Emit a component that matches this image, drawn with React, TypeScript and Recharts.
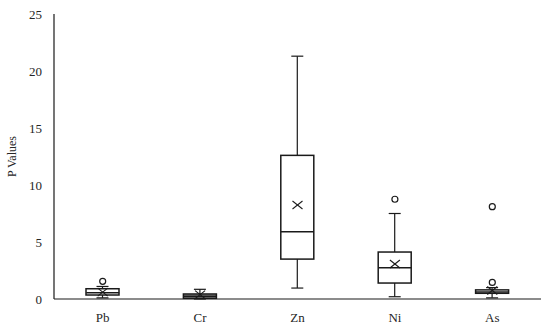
import React from 'react';
import { ComposedChart, Bar, Scatter, XAxis, YAxis } from 'recharts';

const categories = ['Pb', 'Cr', 'Zn', 'Ni', 'As'];
const minVals = [0.1, 0.0, 0.96, 0.2, 0.1];
const q1Vals = [0.35, 0.06, 3.5, 1.4, 0.5];
const medianVals = [0.55, 0.25, 5.9, 2.75, 0.62];
const q3Vals = [0.9, 0.44, 12.6, 4.12, 0.8];
const maxVals = [1.1, 0.85, 21.3, 7.5, 1.0];
const meanVals = [0.6, 0.38, 8.25, 3.07, 0.75];
const outlierA = [1.55, null, null, 8.75, 8.1];
const outlierB = [null, null, null, null, 1.45];
const fills = ['#ffffff', '#8c8c8c', '#ffffff', '#ffffff', '#ffffff'];
const yTicks = [0, 5, 10, 15, 20, 25];

const data = categories.map((name, i) => ({
  name,
  min: minVals[i],
  q1: q1Vals[i],
  median: medianVals[i],
  q3: q3Vals[i],
  max: maxVals[i],
  mean: meanVals[i],
  outA: outlierA[i],
  outB: outlierB[i],
  fill: fills[i],
}));

const STROKE = '#1a1a1a';
const BOX_W = 33;

const WhiskerShape = (props: any) => {
  const { x, y, width, height } = props;
  if (x == null || y == null) return <g />;
  const cx = x + width / 2;
  const top = Math.min(y, y + height);
  const bot = Math.max(y, y + height);
  return (
    <g>
      <line x1={cx} x2={cx} y1={top} y2={bot} stroke={STROKE} strokeWidth={1.2} />
      <line x1={cx - 6} x2={cx + 6} y1={top} y2={top} stroke={STROKE} strokeWidth={1.2} />
      <line x1={cx - 6} x2={cx + 6} y1={bot} y2={bot} stroke={STROKE} strokeWidth={1.2} />
    </g>
  );
};

const BoxShape = (props: any) => {
  const { x, y, width, height, payload } = props;
  if (x == null || y == null) return <g />;
  const top = Math.min(y, y + height);
  const h = Math.abs(height);
  return (
    <rect x={x} y={top} width={width} height={h} fill={payload.fill} stroke={STROKE} strokeWidth={1.5} />
  );
};

const MedianShape = (props: any) => {
  const { cx, cy } = props;
  if (cx == null || cy == null || isNaN(cy)) return <g />;
  return <line x1={cx - BOX_W / 2} x2={cx + BOX_W / 2} y1={cy} y2={cy} stroke={STROKE} strokeWidth={1.5} />;
};

const MeanShape = (props: any) => {
  const { cx, cy } = props;
  if (cx == null || cy == null || isNaN(cy)) return <g />;
  const s = 5;
  return (
    <g>
      <line x1={cx - s} x2={cx + s} y1={cy - s * 0.8} y2={cy + s * 0.8} stroke={STROKE} strokeWidth={1.1} />
      <line x1={cx - s} x2={cx + s} y1={cy + s * 0.8} y2={cy - s * 0.8} stroke={STROKE} strokeWidth={1.1} />
    </g>
  );
};

const makeOutlierShape = (key: string) => (props: any) => {
  const { cx, cy, payload } = props;
  if (!payload || payload[key] == null || cx == null || cy == null || isNaN(cy)) return <g />;
  return <circle cx={cx} cy={cy} r={3} fill="#ffffff" stroke={STROKE} strokeWidth={1.2} />;
};

const OutA = makeOutlierShape('outA');
const OutB = makeOutlierShape('outB');

export default function App() {
  return (
    <div style={{ position: 'absolute', left: 0, top: 0, width: 550, height: 330, background: '#fff' }}>
      <ComposedChart
        width={550}
        height={330}
        data={data}
        margin={{ top: 14, right: 9, bottom: 0, left: 4 }}
      >
        <XAxis
          xAxisId="main"
          dataKey="name"
          type="category"
          tickLine={false}
          axisLine={{ stroke: '#1a1a1a', strokeWidth: 1.2 }}
          tick={{ fontFamily: 'Liberation Serif', fontSize: 13, fill: '#262626' }}
          tickMargin={8}
          height={31}
        />
        <XAxis xAxisId="wh" dataKey="name" type="category" hide />
        <YAxis
          domain={[0, 25]}
          ticks={yTicks}
          type="number"
          tickLine={false}
          axisLine={{ stroke: '#1a1a1a', strokeWidth: 1.2 }}
          tick={{ fontFamily: 'Liberation Serif', fontSize: 13, fill: '#262626' }}
          tickMargin={6}
          width={50}
          label={{
            value: 'P Values',
            angle: -90,
            position: 'insideLeft',
            offset: 8,
            style: { fontFamily: 'Liberation Serif', fontSize: 12, fill: '#262626', textAnchor: 'middle' },
          }}
        />
        <Bar
          xAxisId="wh"
          dataKey={(d: any) => [d.min, d.max]}
          barSize={BOX_W}
          shape={WhiskerShape}
          isAnimationActive={false}
        />
        <Bar
          xAxisId="main"
          dataKey={(d: any) => [d.q1, d.q3]}
          barSize={BOX_W}
          shape={BoxShape}
          isAnimationActive={false}
        />
        <Scatter xAxisId="main" dataKey="median" shape={MedianShape} isAnimationActive={false} />
        <Scatter xAxisId="main" dataKey="mean" shape={MeanShape} isAnimationActive={false} />
        <Scatter xAxisId="main" dataKey="outA" shape={OutA} isAnimationActive={false} />
        <Scatter xAxisId="main" dataKey="outB" shape={OutB} isAnimationActive={false} />
      </ComposedChart>
    </div>
  );
}
